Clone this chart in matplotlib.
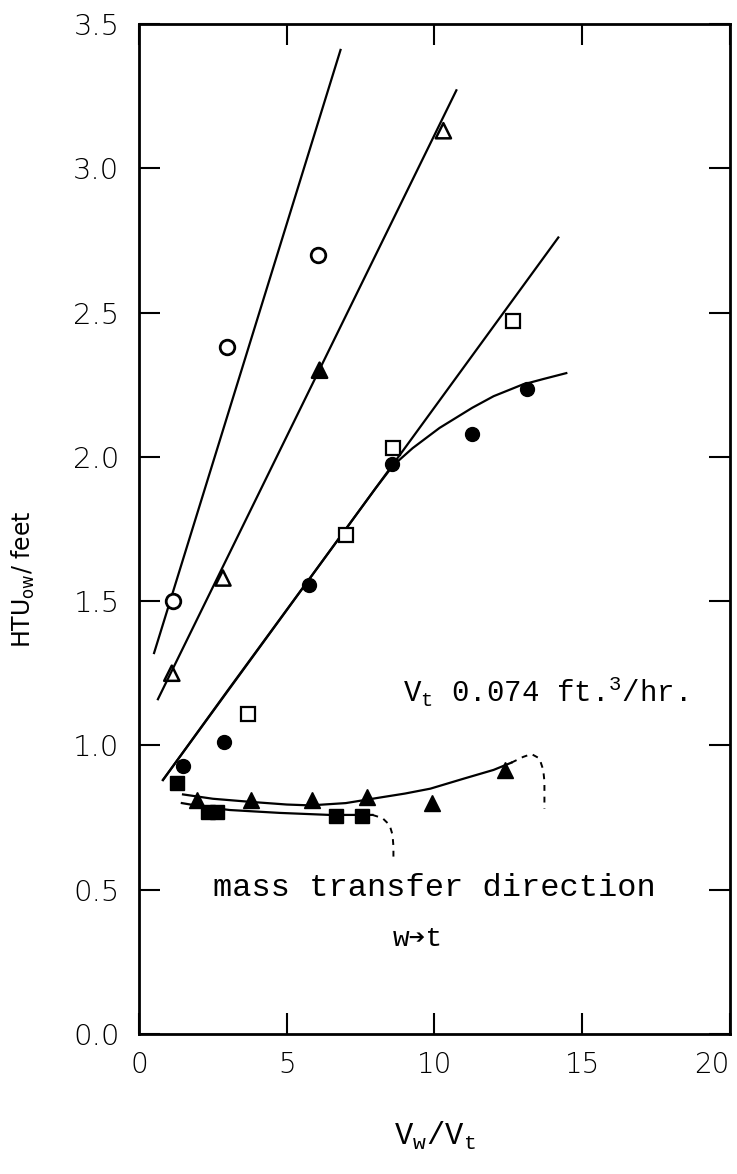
import matplotlib.pyplot as plt
import numpy as np

plt.rcParams['mathtext.fontset'] = 'custom'
plt.rcParams['mathtext.rm'] = 'Liberation Mono'

# open circles and their straight line
circ_open_x = [1.15, 2.97, 6.05]
circ_open_y = [1.50, 2.38, 2.70]
line_a_x = [0.51, 6.82]
line_a_y = [1.32, 3.41]

# open triangles (one printed solid) and their line
tri_open_x = [1.11, 2.84, 6.11, 10.30]
tri_open_y = [1.25, 1.58, 2.30, 3.13]
tri_open_fill = ['none', 'none', 'k', 'none']
line_b_x = [0.64, 10.74]
line_b_y = [1.16, 3.27]

# open squares and their line
sq_open_x = [3.68, 6.99, 8.61, 12.64]
sq_open_y = [1.11, 1.73, 2.03, 2.47]
line_c_x = [0.81, 14.19]
line_c_y = [0.88, 2.76]

# filled circles and their curve
circ_fill_x = [1.49, 2.87, 5.74, 8.55, 11.28, 13.14]
circ_fill_y = [0.93, 1.01, 1.556, 1.975, 2.08, 2.235]
curve_d_x = [0.81, 3.0, 5.0, 7.0, 8.0, 8.6, 9.26, 10.17, 11.28, 12.0, 12.97, 13.7, 14.46]
curve_d_y = [0.88, 1.19, 1.47, 1.75, 1.89, 1.97, 2.03, 2.10, 2.17, 2.21, 2.25, 2.27, 2.29]

# filled triangles, curve and dashed hook
tri_fill_x = [1.96, 3.78, 5.84, 7.70, 9.93, 12.40]
tri_fill_y = [0.81, 0.81, 0.81, 0.82, 0.80, 0.915]
curve_e_x = [1.49, 2.5, 3.8, 5.0, 5.8, 7.0, 8.2, 9.0, 9.86, 11.0, 12.0, 12.6]
curve_e_y = [0.83, 0.815, 0.804, 0.795, 0.792, 0.80, 0.82, 0.833, 0.85, 0.885, 0.915, 0.94]
hook_e_x = [12.6, 13.0, 13.28, 13.55, 13.68, 13.72, 13.72]
hook_e_y = [0.94, 0.96, 0.97, 0.955, 0.915, 0.875, 0.78]

# filled squares, curve and dashed hook
sq_fill_x = [1.28, 2.35, 2.65, 6.66, 7.53]
sq_fill_y = [0.87, 0.77, 0.77, 0.755, 0.755]
curve_f_x = [1.45, 2.2, 3.07, 4.76, 6.45, 7.9]
curve_f_y = [0.80, 0.787, 0.776, 0.766, 0.759, 0.759]
hook_f_x = [7.9, 8.24, 8.48, 8.58, 8.61, 8.61]
hook_f_y = [0.759, 0.748, 0.724, 0.69, 0.65, 0.61]

xticks = [0, 5, 10, 15, 20]
yticks = [0.0, 0.5, 1.0, 1.5, 2.0, 2.5, 3.0, 3.5]

mono = ['Liberation Mono', 'DejaVu Sans Mono', 'DejaVu Sans']

fig = plt.figure(figsize=(7.37, 11.74), dpi=100)
ax = fig.add_axes([0.1886, 0.1193, 0.8019, 0.8603])

lw = 1.6
ax.plot(line_a_x, line_a_y, color='k', lw=lw)
ax.plot(line_b_x, line_b_y, color='k', lw=lw)
ax.plot(line_c_x, line_c_y, color='k', lw=lw)
ax.plot(curve_d_x, curve_d_y, color='k', lw=lw)
ax.plot(curve_e_x, curve_e_y, color='k', lw=lw)
ax.plot(curve_f_x, curve_f_y, color='k', lw=lw)
ax.plot(hook_e_x, hook_e_y, color='k', lw=1.4, ls=(0, (3, 3)))
ax.plot(hook_f_x, hook_f_y, color='k', lw=1.4, ls=(0, (3, 3)))

ax.plot(circ_open_x, circ_open_y, 'o', ms=10.5, mfc='white', mec='k', mew=2)
ax.scatter(tri_open_x, tri_open_y, marker='^', s=120, facecolors=tri_open_fill,
           edgecolors='k', linewidths=1.8, zorder=3)
ax.plot(sq_open_x, sq_open_y, 's', ms=10, mfc='white', mec='k', mew=1.6)
ax.plot(circ_fill_x, circ_fill_y, 'o', ms=10, color='k')
ax.plot(tri_fill_x, tri_fill_y, '^', ms=11, color='k')
ax.plot(sq_fill_x, sq_fill_y, 's', ms=10, color='k')

ax.set_xlim(0, 20)
ax.set_ylim(0, 3.5)
ax.set_xticks(xticks)
ax.set_yticks(yticks)
ax.set_xticklabels([str(v) for v in xticks], fontsize=20, family='DejaVu Sans', fontweight='light')
ax.set_yticklabels([f'{v:.1f}' for v in yticks], fontsize=21, family='DejaVu Sans', fontweight='light')
ax.tick_params(direction='in', length=15, width=1.5, top=True, right=True, pad=12)
ax.tick_params(axis='y', pad=14)
ax.get_xticklabels()[-1].set_horizontalalignment('right')
for s in ax.spines.values():
    s.set_linewidth(2)

ax.set_ylabel('HTU$_{\\mathregular{ow}}$/ feet', fontsize=17, family='DejaVu Sans')
ax.yaxis.set_label_coords(-0.172, 0.45)
ax.set_xlabel('V$_{\\mathregular{w}}$/V$_{\\mathregular{t}}$', fontsize=22, family=mono, labelpad=30)

ax.text(8.92, 1.19, 'V$_{\\mathregular{t}}$ 0.074 ft.$^{\\mathregular{3}}$/hr.', fontsize=21,
        family=mono, va='center', ha='left')
ax.text(2.5, 0.505, 'mass transfer direction', fontsize=23, family=mono, va='center', ha='left')
ax.text(8.58, 0.33, 'w\u2794t', fontsize=20, family=mono, va='center', ha='left')

fig.savefig('out.png', dpi=100)
